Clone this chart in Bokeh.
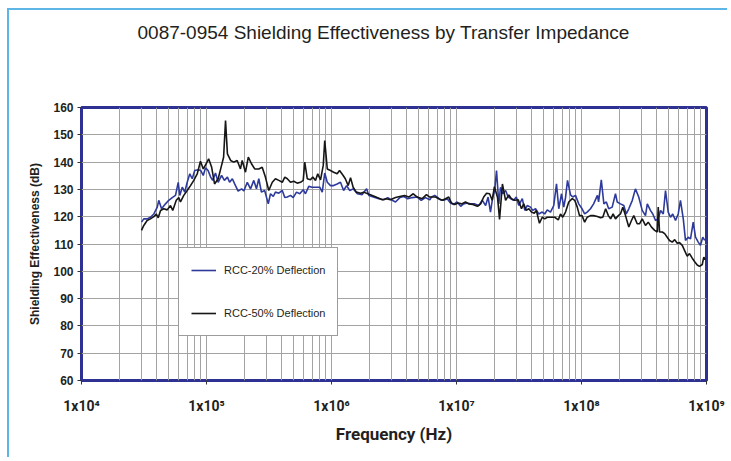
from bokeh.plotting import figure
from bokeh.models import FixedTicker, Legend, LegendItem, Range1d, LogAxis
from bokeh.embed import file_html
from bokeh.resources import INLINE

title_text = "0087-0954 Shielding Effectiveness by Transfer Impedance"
x_label = "Frequency (Hz)"
y_label = "Shielding Effectiveness (dB)"
series_names = ["RCC-20% Deflection", "RCC-50% Deflection"]

x_ticks = [1e4, 1e5, 1e6, 1e7, 1e8, 1e9]
x_tick_labels = ["1x10\u2074", "1x10\u2075", "1x10\u2076", "1x10\u2077", "1x10\u2078", "1x10\u2079"]
x_minor_mult = [2, 3, 4, 5, 6, 7, 8, 9]
y_ticks = [60, 70, 80, 90, 100, 110, 120, 130, 140, 150, 160]

# RCC-20% Deflection (blue)
freq_20 = [
    3.02e4, 3.15e4, 3.35e4, 3.56e4, 3.79e4, 4.04e4, 4.15e4, 4.37e4, 4.70e4, 4.99e4,
    5.32e4, 5.65e4, 5.94e4, 6.11e4, 6.40e4, 6.70e4, 7.01e4, 7.35e4, 7.69e4, 8.05e4,
    8.59e4, 9.00e4, 9.42e4, 9.82e4, 1.03e5, 1.08e5, 1.12e5, 1.18e5, 1.24e5, 1.32e5,
    1.39e5, 1.47e5, 1.53e5, 1.61e5, 1.68e5, 1.79e5, 1.91e5, 1.99e5, 2.12e5, 2.25e5,
    2.39e5, 2.51e5, 2.62e5, 2.75e5, 2.92e5, 3.12e5, 3.25e5, 3.42e5, 3.56e5, 3.79e5,
    4.04e5, 4.23e5,
    4.43e5, 4.70e5, 4.94e5, 5.25e5, 5.57e5, 5.94e5, 6.19e5, 6.58e5, 7.01e5, 7.59e5,
    8.05e5, 8.43e5, 8.83e5, 9.25e5, 9.82e5, 1.04e6, 1.11e6, 1.18e6, 1.25e6, 1.32e6,
    1.40e6, 1.49e6, 1.61e6, 1.76e6, 1.91e6, 1.99e6, 2.16e6, 2.39e6, 2.62e6, 2.82e6,
    3.06e6, 3.25e6, 3.52e6, 3.79e6, 4.07e6, 4.43e6, 4.85e6, 5.22e6, 5.65e6, 6.11e6,
    6.31e6, 6.70e6, 7.01e6, 7.45e6, 7.91e6, 8.43e6, 8.95e6, 9.51e6, 1.01e7, 1.08e7,
    1.14e7, 1.22e7, 1.29e7, 1.40e7, 1.51e7, 1.61e7, 1.71e7, 1.79e7, 1.87e7, 1.95e7,
    2.02e7, 2.09e7, 2.18e7, 2.25e7, 2.34e7, 2.47e7, 2.59e7, 2.72e7, 2.87e7, 3.01e7,
    3.15e7, 3.36e7, 3.52e7, 3.68e7, 3.91e7, 4.07e7, 4.29e7, 4.55e7, 4.85e7, 5.08e7,
    5.32e7, 5.65e7, 6.00e7, 6.31e7, 6.58e7, 6.92e7, 7.21e7,
    7.45e7, 7.73e7, 8.17e7, 8.51e7, 8.95e7, 9.51e7, 1.01e8, 1.06e8, 1.11e8, 1.18e8,
    1.25e8, 1.34e8, 1.37e8, 1.44e8, 1.51e8, 1.58e8, 1.65e8, 1.76e8, 1.87e8, 1.93e8,
    2.05e8, 2.18e8, 2.28e8, 2.39e8, 2.55e8, 2.70e8, 2.87e8, 3.06e8, 3.25e8, 3.36e8,
    3.56e8, 3.72e8, 3.91e8, 4.11e8, 4.29e8, 4.51e8, 4.70e8, 4.94e8, 5.15e8, 5.37e8,
    5.65e8, 5.94e8, 6.19e8, 6.52e8, 6.79e8, 7.14e8, 7.45e8, 7.83e8, 8.17e8, 8.59e8,
    8.95e8, 9.33e8, 9.68e8,
]
se_20 = [
    118.0, 119.2, 119.2, 119.8, 121.0, 123.5, 126.0, 122.9, 124.7, 126.0,
    127.0, 127.8, 132.6, 127.8, 130.8, 129.0, 132.6, 135.7, 133.9, 136.9,
    137.2, 136.9, 135.1, 137.9, 136.9, 134.5, 133.3, 136.0, 132.6, 135.1,
    133.3, 134.5, 132.6, 133.9, 132.0, 129.4, 130.2, 129.4, 132.6, 130.2,
    133.3, 130.2, 133.9, 129.0, 129.6, 124.7, 128.4, 127.4, 129.0, 128.6,
    129.6, 127.0,
    127.2, 127.8, 127.0, 129.0, 128.4, 129.9, 128.4, 131.1, 130.8, 130.8,
    130.8, 129.0, 136.0, 132.6, 131.4, 131.4, 132.0, 132.6, 129.6, 131.4,
    129.6, 130.2, 128.4, 128.1, 130.2, 127.8, 127.2, 126.6, 126.2, 127.0,
    126.0, 125.4, 127.0, 127.4, 126.6, 127.0, 127.2, 126.0, 127.0, 126.2,
    127.2, 127.8, 127.2, 126.2, 126.0, 126.6, 125.0, 124.5, 125.4, 123.8,
    124.7, 125.0, 124.7, 124.7, 124.1, 126.0, 124.1, 127.2, 121.7, 127.2,
    129.6, 136.9, 124.7, 130.8, 128.4, 129.6, 127.2, 126.6, 126.0, 127.2,
    124.1, 126.6, 122.3, 124.1, 123.5, 122.3, 122.9, 121.0, 121.7, 121.0,
    122.5, 121.7, 124.1, 132.0, 122.9, 128.4, 123.5,
    127.0, 133.3, 128.0, 127.2, 127.8, 124.7, 122.9, 121.0, 121.7, 122.9,
    124.7, 127.8, 125.4, 133.5, 124.7, 125.4, 122.9, 123.5, 128.4, 125.4,
    124.7, 124.1, 121.0, 122.9, 126.0, 130.2, 127.2, 122.3, 120.4, 124.7,
    122.3, 121.0, 118.6, 119.2, 122.3, 121.0, 129.6, 121.7, 119.8, 121.0,
    118.6, 121.0, 126.0, 119.2, 111.3, 112.5, 111.9, 118.0, 112.5, 110.7,
    109.5, 112.5, 111.3,
]

# RCC-50% Deflection (black)
freq_50 = [
    3.02e4, 3.15e4, 3.35e4, 3.56e4, 3.79e4, 3.96e4, 4.11e4, 4.29e4, 4.55e4, 4.85e4,
    5.15e4, 5.37e4, 5.73e4, 6.00e4, 6.19e4, 6.58e4, 7.01e4, 7.45e4, 7.91e4, 8.43e4,
    8.95e4, 9.42e4, 9.95e4, 1.04e5, 1.10e5, 1.16e5, 1.24e5, 1.32e5, 1.37e5, 1.42e5,
    1.47e5, 1.56e5, 1.65e5, 1.76e5, 1.87e5, 1.93e5, 2.05e5, 2.16e5, 2.29e5, 2.43e5,
    2.62e5, 2.79e5, 2.96e5, 3.15e5, 3.36e5, 3.56e5, 3.79e5, 4.04e5, 4.23e5,
    4.43e5, 4.70e5, 4.99e5, 5.32e5, 5.65e5, 5.94e5, 6.11e5, 6.40e5, 6.79e5, 7.08e5,
    7.45e5, 7.76e5, 8.17e5, 8.59e5, 8.83e5, 9.25e5, 9.82e5, 1.04e6, 1.11e6, 1.16e6,
    1.24e6, 1.29e6, 1.36e6, 1.42e6, 1.49e6, 1.58e6, 1.71e6, 1.81e6, 1.95e6, 2.12e6,
    2.32e6, 2.55e6, 2.75e6, 2.96e6, 3.25e6, 3.52e6, 3.84e6, 4.15e6, 4.51e6, 4.85e6,
    5.32e6, 5.75e6, 6.11e6,
    6.40e6, 6.79e6, 7.21e6, 7.69e6, 8.17e6, 8.67e6, 9.12e6, 9.68e6, 1.03e7, 1.10e7,
    1.18e7, 1.25e7, 1.35e7, 1.47e7, 1.56e7, 1.65e7, 1.74e7, 1.84e7, 1.93e7, 2.01e7,
    2.13e7, 2.21e7, 2.33e7, 2.47e7, 2.62e7, 2.75e7, 2.92e7, 3.12e7, 3.31e7, 3.45e7,
    3.61e7, 3.79e7, 3.98e7, 4.19e7, 4.35e7, 4.61e7, 4.85e7, 5.08e7, 5.32e7, 5.65e7,
    6.11e7, 6.52e7, 6.79e7, 7.08e7,
    7.45e7, 7.91e7, 8.43e7, 8.83e7, 9.25e7, 9.64e7, 1.01e8, 1.06e8, 1.11e8, 1.18e8,
    1.25e8, 1.34e8, 1.42e8, 1.48e8, 1.56e8, 1.64e8, 1.71e8, 1.79e8, 1.87e8, 1.97e8,
    2.05e8, 2.14e8, 2.25e8, 2.39e8, 2.51e8, 2.62e8, 2.79e8, 2.91e8, 3.06e8, 3.25e8,
    3.42e8, 3.63e8, 3.85e8, 4.04e8, 4.11e8, 4.21e8, 4.43e8, 4.63e8, 4.85e8, 5.06e8,
    5.32e8, 5.57e8, 5.83e8, 6.08e8, 6.40e8, 6.70e8, 7.01e8, 7.31e8, 7.69e8, 8.05e8,
    8.43e8, 8.79e8, 9.25e8, 9.51e8, 9.82e8,
]
se_50 = [
    115.0, 116.8, 118.6, 119.2, 120.0, 121.0, 119.6, 122.3, 122.9, 122.5,
    124.1, 122.3, 126.0, 127.0, 125.4, 127.8, 129.6, 131.4, 133.3, 135.7,
    140.3, 137.5, 139.4, 141.2, 138.1, 132.0, 133.9, 138.8, 141.8, 155.2,
    143.0, 140.6, 140.0, 140.6, 137.5, 140.6, 136.3, 141.8, 139.4, 137.5,
    137.5, 138.1, 134.5, 129.6, 132.6, 133.9, 133.3, 132.6, 134.5,
    133.9, 132.6, 133.0, 132.3, 132.6, 133.3, 140.0, 133.9, 133.5, 134.5,
    133.3, 135.7, 133.5, 138.8, 147.9, 137.5, 136.9, 136.3, 135.7, 136.9,
    135.1, 133.9, 131.4, 134.3, 130.8, 129.0, 128.6, 129.0, 128.4, 127.8,
    127.0, 126.2, 126.6, 126.2, 127.0, 127.4, 127.8, 127.2, 128.4, 127.2,
    126.6, 128.1, 127.2,
    127.2, 127.2, 126.6, 126.0, 126.6, 127.2, 125.0, 124.5, 125.0, 124.7,
    125.4, 124.7, 124.5, 123.8, 124.7, 127.2, 128.6, 128.4, 126.0, 131.0,
    127.0, 119.0, 132.0, 126.0, 128.0, 126.6, 126.0, 126.2, 122.9, 124.7,
    122.3, 122.9, 121.7, 121.3, 122.3, 117.6, 119.8, 119.2, 119.8, 119.8,
    119.8, 118.8, 121.0, 119.8,
    121.7, 125.4, 126.6, 126.0, 123.5, 120.4, 120.4, 118.0, 119.8, 120.4,
    120.4, 120.1, 119.6, 119.8, 122.9, 120.4, 119.2, 121.0, 119.2, 120.4,
    121.0, 123.5, 120.4, 116.2, 118.6, 120.4, 117.4, 117.4, 119.2, 116.8,
    118.0, 116.2, 115.0, 114.4, 123.5, 114.4, 114.4, 113.8, 112.5, 111.3,
    110.7, 111.6, 110.3, 110.5, 109.5, 107.5, 105.5, 106.5, 104.8, 103.5,
    102.3, 101.8, 102.5, 105.2, 104.3,
]

BLUE = "#2d3a9c"
BLACK = "#161616"
NAVY = "#2e3192"
GRID = "#a3a3a3"
FRAME_BLUE = "#5db6e6"
TEXT = "#231f20"

p = figure(
    width=720, height=449,
    x_axis_type="log",
    x_range=Range1d(x_ticks[0], x_ticks[-1]),
    y_range=Range1d(y_ticks[0], y_ticks[-1]),
    output_backend="svg", toolbar_location=None,
    min_border_left=72, min_border_right=23,
    min_border_top=97, min_border_bottom=79,
    background_fill_color="white", border_fill_color="white",
    title=title_text,
)
p.styles = {
    "margin-left": "7px", "margin-top": "8px",
    "border-left": f"2px solid {FRAME_BLUE}", "border-top": f"2px solid {FRAME_BLUE}",
}

xa = p.below[0]
ya = p.left[0]

# invisible spacer between the frame and the title: one hidden tick, empty label
spacer = LogAxis(ticker=FixedTicker(ticks=x_ticks[:1]), axis_line_color=None,
                 major_tick_in=0, major_tick_out=60, major_tick_line_color=None,
                 minor_tick_in=0, minor_tick_out=0, minor_tick_line_color=None,
                 major_label_standoff=0, major_label_text_font_size="1px",
                 major_label_overrides={x_ticks[0]: ""})
p.add_layout(spacer, "above")

p.title.align = "left"
p.title.offset = 56
p.title.text_font = "Liberation Sans"
p.title.text_font_style = "normal"
p.title.text_font_size = "19px"
p.title.text_color = TEXT
p.title.standoff = 10

p.outline_line_color = NAVY
p.outline_line_width = 3
p.outline_line_alpha = 1.0

minor = [m * d for d in x_ticks[:-1] for m in x_minor_mult]
xa.ticker = FixedTicker(ticks=x_ticks, minor_ticks=minor)
xa.major_label_overrides = {t: lab for t, lab in zip(x_ticks, x_tick_labels)}
ya.ticker = FixedTicker(ticks=y_ticks)

for ax in (xa, ya):
    ax.axis_line_color = None
    ax.major_tick_line_color = "#333333"
    ax.minor_tick_line_color = None
    ax.major_tick_in = 0
    ax.major_tick_out = 4
    ax.major_label_text_color = TEXT
    ax.major_label_text_font_style = "bold"

NARROW = "'Liberation Sans Narrow', 'Arial Narrow', 'Roboto', sans-serif"
xa.major_label_text_font = NARROW
xa.major_label_text_font_size = "14px"
xa.major_label_standoff = 13
xa.axis_label = x_label
xa.axis_label_text_font = NARROW
xa.axis_label_text_font_style = "bold"
xa.axis_label_text_font_size = "17px"
xa.axis_label_text_color = TEXT
xa.axis_label_standoff = 7

ya.major_label_text_font = "Liberation Sans"
ya.major_label_text_font_size = "12px"
ya.major_label_standoff = 4
ya.axis_label = y_label
ya.axis_label_text_font = "Liberation Sans"
ya.axis_label_text_font_style = "bold"
ya.axis_label_text_font_size = "12px"
ya.axis_label_text_color = TEXT
ya.axis_label_standoff = 8

p.xgrid.grid_line_color = GRID
p.xgrid.minor_grid_line_color = GRID
p.xgrid.grid_line_width = 1
p.xgrid.minor_grid_line_width = 1
p.ygrid.grid_line_color = GRID
p.ygrid.grid_line_width = 1

r20 = p.line(freq_20, se_20, line_color=BLUE, line_width=1.6)
r50 = p.line(freq_50, se_50, line_color=BLACK, line_width=1.6)

legend = Legend(
    items=[LegendItem(label=series_names[0], renderers=[r20]),
           LegendItem(label=series_names[1], renderers=[r50])],
    location=(97, 44),
    orientation="vertical",
    border_line_color="#3a3a3a", border_line_width=1,
    background_fill_color="white", background_fill_alpha=1.0,
    padding=12, spacing=23, margin=0,
    glyph_width=25, glyph_height=20, label_height=20,
    label_standoff=8,
    label_text_font="Liberation Sans", label_text_font_size="11px",
    label_text_color=TEXT,
)
p.add_layout(legend, "center")

open("out.html", "w").write(file_html(p, INLINE))
